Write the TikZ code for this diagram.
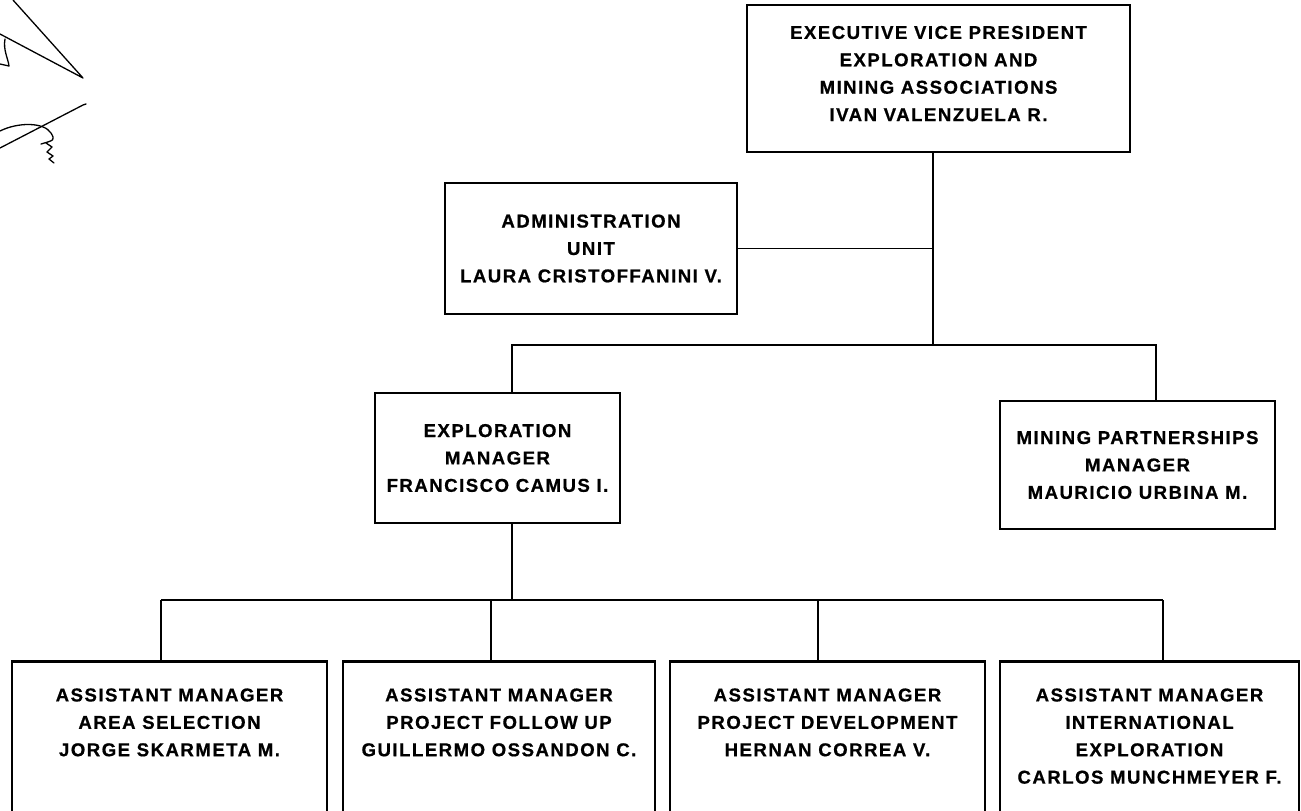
\documentclass[tikz,border=0pt]{standalone}
\usepackage{fontspec}
\setmainfont{Liberation Sans}[LetterSpace=8, BoldFeatures={FakeBold=0.7}]
\newcommand{\orgfont}{\fontsize{9.3pt}{13.7pt}\selectfont\bfseries}
\newcommand{\amtext}[2]{\parbox[c][88pt][t]{#1}{\centering\rule{0pt}{20pt}#2}}

\begin{document}
\begin{tikzpicture}[x=0.5pt, y=-0.5pt]
        \tikzset{post/.style={draw, rectangle, line width=1.4pt, inner sep=0pt, font=\orgfont}}
        \tikzset{head/.style={post, align=center}}
        \tikzset{link/.style={line width=0.8pt}}
        \tikzset{ink/.style={line width=0.65pt, line cap=round, line join=round}}
        \useasboundingbox (0,0) rectangle (1301,810);
        \clip (0,0) rectangle (1301,810);
        % signature
        \draw[ink] (13,0) -- (83,78) -- (0,34);
        \draw[ink] (5,39) .. controls (3,50) and (8,58) .. (9,66) -- (0,64);
        \draw[ink] (86,104) -- (83,105) -- (0,148);
        \draw[ink] (0,131) .. controls (18,122) and (44,122) .. (51,133) .. controls (55,140) .. (41,144);
        \draw[ink] (46,143) -- (52,147) -- (47,152) -- (53,156) -- (49,159) -- (54,163);
        % top level
        \node[head, minimum width=191.5pt, minimum height=73.5pt] (evp) at (938.5,78.5)
          {EXECUTIVE VICE PRESIDENT\\EXPLORATION AND\\MINING ASSOCIATIONS\\IVAN VALENZUELA R.\rule[-5pt]{0pt}{5pt}};
        \node[head, minimum width=146pt, minimum height=65.5pt] (adm) at (591,248.5)
          {ADMINISTRATION\\UNIT\\LAURA CRISTOFFANINI V.};
        \node[head, minimum width=122.5pt, minimum height=65pt] (expm) at (497.5,458)
          {EXPLORATION\\MANAGER\\FRANCISCO CAMUS I.};
        \node[head, minimum width=137.5pt, minimum height=64pt] (minm) at (1137.5,465)
          {MINING PARTNERSHIPS\\MANAGER\\MAURICIO URBINA M.};
        % assistant managers
        \node[post, anchor=north] (am1) at (169.5,660)
          {\amtext{157.5pt}{ASSISTANT MANAGER\\AREA SELECTION\\JORGE SKARMETA M.}};
        \node[post, anchor=north] (am2) at (499,660)
          {\amtext{156pt}{ASSISTANT MANAGER\\PROJECT FOLLOW UP\\GUILLERMO OSSANDON C.}};
        \node[post, anchor=north] (am3) at (827.5,660)
          {\amtext{157.5pt}{ASSISTANT MANAGER\\PROJECT DEVELOPMENT\\HERNAN CORREA V.}};
        \node[post, anchor=north] (am4) at (1149.5,660)
          {\amtext{149.5pt}{ASSISTANT MANAGER\\INTERNATIONAL\\EXPLORATION\\CARLOS MUNCHMEYER F.}};
        % connectors
        \coordinate (hub) at (933,345);
        \coordinate (dropE) at (512,345);
        \coordinate (dropM) at (1156,345);
        \draw[link] (evp.south -| hub) -- (hub);
        \draw[link] (adm.east) -- (adm.east -| hub);
        \draw[link] (expm.north -| dropE) |- (hub) -| (minm.north -| dropM);
        \coordinate (hub2) at (512,600);
        \draw[link] (expm.south -| hub2) -- (hub2);
        \foreach \n/\dx in {1/161,2/491,3/818,4/1163}
          \coordinate (d\n) at (\dx,600);
        \draw[link, line width=1.1pt] (d1) -- (d4);
        \foreach \n in {1,...,4}
          \draw[link] (d\n) -- (am\n.north -| d\n);
\end{tikzpicture}
\end{document}
